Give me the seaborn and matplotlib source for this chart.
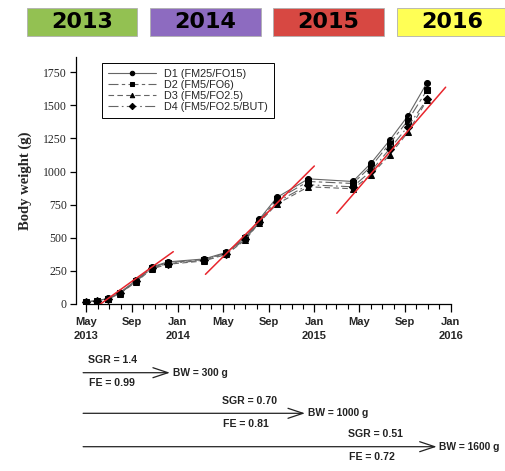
import matplotlib
matplotlib.use("Agg")
import matplotlib.pyplot as plt
import matplotlib.dates as mdates
from matplotlib.patches import Rectangle
import pandas as pd
import seaborn as sns

# ---- growth data: mean body weight (g) per diet at each sampling ----
sample_dates = ["2013-05-01", "2013-05-29", "2013-06-29", "2013-07-30", "2013-09-12",
                "2013-10-24", "2013-12-05", "2014-03-12", "2014-05-11", "2014-07-01",
                "2014-08-07", "2014-09-23", "2014-12-16", "2015-04-14", "2015-06-02",
                "2015-07-21", "2015-09-08", "2015-10-29"]
bw_d1 = [17, 25, 42, 85, 180, 280, 318, 340, 390, 505, 640, 805, 945, 925, 1065, 1235, 1420, 1670]
bw_d2 = [16, 24, 40, 82, 175, 275, 312, 335, 385, 498, 630, 790, 925, 910, 1040, 1210, 1385, 1615]
bw_d3 = [15, 22, 38, 78, 168, 265, 300, 325, 375, 485, 615, 755, 885, 870, 975, 1125, 1295, 1540]
bw_d4 = [16, 23, 39, 80, 172, 270, 305, 330, 380, 490, 620, 770, 900, 885, 1005, 1170, 1340, 1545]
diet_labels = ["D1 (FM25/FO15)", "D2 (FM5/FO6)", "D3 (FM5/FO2.5)", "D4 (FM5/FO2.5/BUT)"]

# ---- linear growth trends for each production phase ----
trend_start_dates = ["2013-06-01", "2014-03-16", "2015-03-02"]
trend_end_dates = ["2013-12-20", "2015-01-01", "2015-12-18"]
trend_start_bw = [-15, 224, 685]
trend_end_bw = [395, 1042, 1637]

# ---- axis labels ----
xtick_dates = ["2013-05-01", "2013-09-01", "2014-01-01", "2014-05-01", "2014-09-01",
               "2015-01-01", "2015-05-01", "2015-09-01", "2016-01-01"]
xtick_labels = ["May\n2013", "Sep", "Jan\n2014", "May", "Sep", "Jan\n2015", "May", "Sep", "Jan\n2016"]
ytick_values = [0, 250, 500, 750, 1000, 1250, 1500, 1750]

# ---- year banner ----
year_labels = ["2013", "2014", "2015", "2016"]
year_colors = ["#93c152", "#8d6bc0", "#d74842", "#ffff55"]

# ---- phase summaries ----
phase_sgr = ["1.4", "0.70", "0.51"]
phase_fe = ["0.99", "0.81", "0.72"]
phase_bw = [300, 1000, 1600]
phase_end_dates = ["2013-12-11", "2014-12-07", "2015-11-24"]

sns.set_theme(style="white")
plt.rcParams["font.family"] = ["Liberation Sans", "DejaVu Sans"]

W, H = 505, 471
fig = plt.figure(figsize=(W / 100, H / 100), dpi=100)

def fx(px):
    return px / W

def fy(py):
    return 1 - py / H

ax = fig.add_axes([fx(76), fy(304), fx(455) - fx(76), fy(57) - fy(304)])

df = pd.DataFrame({
    "date": pd.to_datetime(sample_dates * 4),
    "bw": bw_d1 + bw_d2 + bw_d3 + bw_d4,
    "diet": sum([[lab] * len(sample_dates) for lab in diet_labels], []),
})

marker_map = dict(zip(diet_labels, ["o", "s", "^", "D"]))
dash_map = dict(zip(diet_labels, ["", (9, 3, 3, 3), (5, 3), (9, 3, 1.5, 3)]))

sns.lineplot(data=df, x="date", y="bw", style="diet", style_order=diet_labels,
             markers=marker_map, dashes=dash_map, color="#666666", linewidth=0.8,
             markersize=4.3, errorbar=None, legend=False, ax=ax)
diet_lines = list(ax.lines[:4])
for ln, m in zip(diet_lines, ["o", "s", "^", "D"]):
    ln.set_markerfacecolor("black")
    ln.set_markeredgecolor("black")
    if m == "D":
        ln.set_markersize(3.7)

trend_df = pd.DataFrame({
    "date": pd.to_datetime(trend_start_dates + trend_end_dates),
    "bw": trend_start_bw + trend_end_bw,
    "phase": [0, 1, 2, 0, 1, 2],
})
sns.lineplot(data=trend_df, x="date", y="bw", units="phase", estimator=None,
             color="#e8262d", linewidth=1.1, legend=False, ax=ax)

ax.set_xlim(pd.Timestamp("2013-04-04"), pd.Timestamp("2016-01-12"))
ax.set_ylim(0, 1865)
for s in ["top", "right"]:
    ax.spines[s].set_visible(False)
for s in ["left", "bottom"]:
    ax.spines[s].set_color("black")
    ax.spines[s].set_linewidth(0.9)
ax.spines["bottom"].set_bounds(mdates.date2num(pd.Timestamp(xtick_dates[0])),
                               mdates.date2num(pd.Timestamp(xtick_dates[-1])))
ax.spines["left"].set_bounds(0, 1865)

ax.set_xticks(pd.to_datetime(xtick_dates))
ax.set_xticklabels(xtick_labels, fontsize=8, fontweight="bold", linespacing=1.45)
ax.xaxis.set_minor_locator(mdates.MonthLocator())
ax.tick_params(axis="x", which="major", direction="out", length=5.5, width=0.9,
               color="black", pad=4, bottom=True)
ax.tick_params(axis="x", which="minor", direction="out", length=3.5, width=0.8,
               color="black", bottom=True)
ax.set_yticks(ytick_values)
ax.set_yticklabels([str(v) for v in ytick_values], fontsize=8.5, family="Liberation Serif")
ax.tick_params(axis="y", direction="out", length=4.5, width=0.9, color="black", pad=2, left=True)
ax.set_xlabel("")
ax.set_ylabel("Body weight (g)", fontsize=10.5, fontweight="bold", family="Liberation Serif",
              labelpad=8)

leg = ax.legend(diet_lines, diet_labels, loc="upper left",
                bbox_to_anchor=((102 - 76) / 379, (304 - 63) / 247),
                fontsize=7.8, handlelength=4.4, handletextpad=0.8, labelspacing=0.08,
                borderpad=0.55, borderaxespad=0, fancybox=False, framealpha=1,
                edgecolor="black")
leg.get_frame().set_linewidth(0.7)
for h in leg.legend_handles:
    h.set_markersize(3.2)

# year banner
box_left = [27, 150, 273, 397]
box_width = [110, 111, 111, 115]
for x0, w, lab, col in zip(box_left, box_width, year_labels, year_colors):
    fig.patches.append(Rectangle((fx(x0), fy(36)), fx(w), fy(8) - fy(36),
                                 transform=fig.transFigure, facecolor=col,
                                 edgecolor="#b0b0b0", linewidth=0.6))
    fig.text(fx(x0 + min(w, 110) / 2), fy(22), lab, ha="center", va="center",
             fontsize=16, fontweight="bold", family="DejaVu Sans", color="black")

# phase summary arrows
arrow_start = pd.Timestamp("2013-04-23")
arrow_y = [372.7, 413.3, 446.7]
sgr_x = [88, 222, 348]
for sgr, fe, bw, end, ay, tx in zip(phase_sgr, phase_fe, phase_bw, phase_end_dates, arrow_y, sgr_x):
    end_ts = pd.Timestamp(end)
    ax.annotate("", xy=(mdates.date2num(end_ts), H - ay),
                xytext=(mdates.date2num(arrow_start), H - ay),
                xycoords=("data", "figure pixels"), textcoords=("data", "figure pixels"),
                arrowprops=dict(arrowstyle="->,head_length=0.9,head_width=0.3",
                                lw=0.9, color="#222222", shrinkA=0, shrinkB=0),
                annotation_clip=False)
    ax.annotate(f"BW = {bw} g", xy=(mdates.date2num(end_ts), H - ay),
                xycoords=("data", "figure pixels"), xytext=(2, 0), textcoords="offset points",
                ha="left", va="center", fontsize=7.4, fontweight="bold", color="#222222",
                annotation_clip=False)
    fig.text(fx(tx), fy(ay - 12.5), f"SGR = {sgr}", ha="left", va="center",
             fontsize=7.6, fontweight="bold", color="#222222")
    fig.text(fx(tx + 1), fy(ay + 10.5), f"FE = {fe}", ha="left", va="center",
             fontsize=7.6, fontweight="bold", color="#222222")

fig.savefig("out.png", dpi=100)
